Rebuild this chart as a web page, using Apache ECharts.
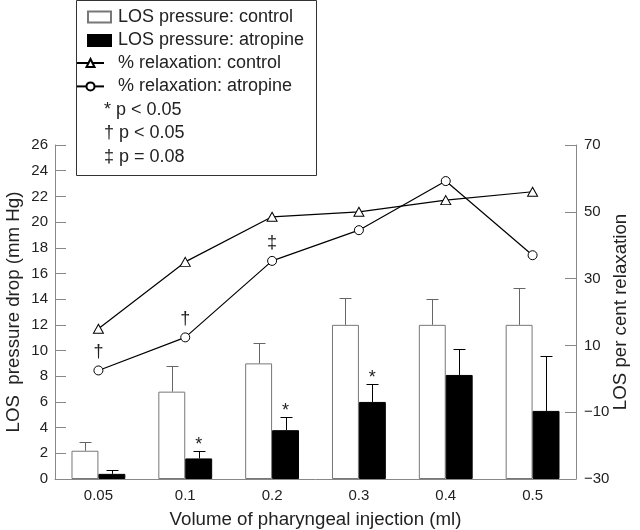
<!DOCTYPE html>
<html><head><meta charset="utf-8">
<script src="https://cdn.jsdelivr.net/npm/echarts@6/dist/echarts.min.js"></script>
<style>html,body{margin:0;padding:0;background:#fff}#c{width:640px;height:530px}</style>
</head><body><div id="c"></div>
<script>
const categories = ['0.05', '0.1', '0.2', '0.3', '0.4', '0.5'];
const pressureControl = [2.2, 6.8, 9.0, 12.0, 12.0, 12.0];
const pressureControlSD = [0.7, 2.0, 1.6, 2.1, 2.0, 2.9];
const pressureAtropine = [0.4, 1.6, 3.8, 6.0, 8.1, 5.3];
const pressureAtropineSD = [0.3, 0.6, 1.0, 1.4, 2.0, 4.3];
const relaxControl = [15, 35, 48.5, 50, 53.5, 56];
const relaxAtropine = [2.5, 12.4, 35.3, 44.5, 59.2, 37];
const sigPressure = ['', '*', '*', '*', '', ''];
const sigRelax = ['\u2020', '\u2020', '\u2021', '', '', ''];
const notes = ['* p < 0.05', '\u2020 p < 0.05', '\u2021 p = 0.08'];
const seriesNames = ['LOS pressure: control', 'LOS pressure: atropine', '% relaxation: control', '% relaxation: atropine'];

const FONT = "'Liberation Sans', Arial, sans-serif";
const TXT = '#222';
const AX = '#888';
const GAP = 0.38;

function errRender(side, color) {
  return function (params, api) {
    const i = api.value(0), v = api.value(1), sd = api.value(2);
    const base = api.coord([i, v]);
    const top = api.coord([i, v + sd]);
    const band = api.size([1, 0])[0];
    const bw = band * (1 - GAP) / 2;
    const x = Math.round(base[0] + side * bw / 2) + 0.5;
    const yt = Math.round(top[1]) + 0.5;
    return { type: 'group', children: [
      { type: 'line', shape: { x1: x, y1: base[1], x2: x, y2: yt }, style: { stroke: color, lineWidth: 1 } },
      { type: 'line', shape: { x1: x - 6, y1: yt, x2: x + 6, y2: yt }, style: { stroke: color, lineWidth: 1 } }
    ]};
  };
}

const chart = echarts.init(document.getElementById('c'), null, { renderer: 'canvas' });
chart.setOption({
  animation: false,
  textStyle: { fontFamily: FONT, color: TXT },
  grid: { left: 55, right: 64, top: 145, bottom: 51, containLabel: false, outerBoundsMode: 'none' },
  legend: [
    { data: seriesNames.slice(0, 2).map(n => ({ name: n, icon: 'rect' })), orient: 'vertical', left: 87, top: 7, padding: 0,
      itemWidth: 23, itemHeight: 11, itemGap: 3.4, selectedMode: false,
      textStyle: { fontSize: 18, lineHeight: 20, color: TXT, padding: [0, 0, 0, 2] } },
    { data: seriesNames.slice(2, 4), orient: 'vertical', left: 76, top: 53, padding: 0,
      itemWidth: 27, itemHeight: 10, itemGap: 3.4, selectedMode: false,
      textStyle: { fontSize: 18, lineHeight: 20, color: TXT, padding: [0, 0, 0, 9] } }
  ],
  graphic: [
    { type: 'rect', shape: { x: 76.5, y: 0.5, width: 240, height: 175 }, style: { fill: 'transparent', stroke: '#333', lineWidth: 1 }, z: 0 },
  ].concat(notes.map((t, k) => ({
    type: 'text', x: 104, y: 110 + k * 23.5,
    style: { text: t, font: '18px ' + FONT, fill: TXT, textVerticalAlign: 'middle' }
  }))),
  xAxis: {
    type: 'category', data: categories,
    axisLine: { lineStyle: { color: AX, width: 1 } },
    axisTick: { show: false },
    axisLabel: { fontSize: 15, color: TXT, margin: 9 },
    name: 'Volume of pharyngeal injection (ml)', nameLocation: 'middle', nameGap: 31, nameMoveOverlap: false,
    nameTextStyle: { fontSize: 18.7, color: TXT }
  },
  yAxis: [
    { type: 'value', min: 0, max: 26, interval: 2, position: 'left',
      axisLine: { show: true, lineStyle: { color: AX } },
      axisTick: { show: true, inside: true, length: 11, lineStyle: { color: AX } },
      splitLine: { show: false },
      axisLabel: { fontSize: 15, color: TXT, margin: 7 },
      name: 'LOS  pressure drop (mm Hg)', nameLocation: 'middle', nameRotate: 90, nameGap: 32, nameMoveOverlap: false,
      nameTextStyle: { fontSize: 18.7, color: TXT } },
    { type: 'value', min: -30, max: 70, interval: 20, position: 'right',
      axisLine: { show: true, lineStyle: { color: AX } },
      axisTick: { show: true, inside: true, length: 11, lineStyle: { color: AX } },
      splitLine: { show: false },
      axisLabel: { fontSize: 15, color: TXT, margin: 8, formatter: v => String(v).replace('-', '\u2212') },
      name: 'LOS per cent relaxation', nameLocation: 'middle', nameRotate: 90, nameGap: 35, nameMoveOverlap: false,
      nameTextStyle: { fontSize: 18.7, color: TXT } }
  ],
  series: [
    { name: seriesNames[0], type: 'bar', data: pressureControl, barGap: '0%', barCategoryGap: (GAP * 100) + '%',
      itemStyle: { color: '#fff', borderColor: '#777', borderWidth: 1 } },
    { name: seriesNames[1], type: 'bar', data: pressureAtropine,
      itemStyle: { color: '#000', borderColor: '#000', borderWidth: 1 } },
    { name: seriesNames[2], type: 'line', yAxisIndex: 1, data: relaxControl,
      symbol: 'triangle', symbolSize: [10, 9],
      lineStyle: { color: '#000', width: 1.2 },
      itemStyle: { color: '#fff', borderColor: '#000', borderWidth: 1 }, z: 5 },
    { name: seriesNames[3], type: 'line', yAxisIndex: 1, data: relaxAtropine,
      symbol: 'circle', symbolSize: 9,
      lineStyle: { color: '#000', width: 1.2 },
      itemStyle: { color: '#fff', borderColor: '#000', borderWidth: 1 }, z: 5 },
    { type: 'custom', name: 'errControl', renderItem: errRender(-1, '#666'),
      data: pressureControl.map((v, i) => [i, v, pressureControlSD[i]]), z: 3 },
    { type: 'custom', name: 'errAtropine', renderItem: errRender(1, '#000'),
      data: pressureAtropine.map((v, i) => [i, v, pressureAtropineSD[i]]), z: 3 },
    { type: 'custom', name: 'sigP',
      renderItem: function (params, api) {
        const i = api.value(0);
        const t = sigPressure[params.dataIndex];
        if (!t) return null;
        const p = api.coord([i, api.value(1)]);
        const bw = api.size([1, 0])[0] * (1 - GAP) / 2;
        return { type: 'text', x: p[0] + bw / 2, y: p[1] - 6,
          style: { text: t, font: '18px ' + FONT, fill: TXT, textAlign: 'center', textVerticalAlign: 'middle' } };
      },
      data: pressureAtropine.map((v, i) => [i, v + pressureAtropineSD[i]]), z: 6 },
    { type: 'custom', name: 'sigR', yAxisIndex: 1,
      renderItem: function (params, api) {
        const t = sigRelax[params.dataIndex];
        if (!t) return null;
        const p = api.coord([api.value(0), api.value(1)]);
        return { type: 'text', x: p[0], y: p[1] - 18,
          style: { text: t, font: '18px ' + FONT, fill: TXT, textAlign: 'center', textVerticalAlign: 'middle' } };
      },
      data: relaxAtropine.map((v, i) => [i, v]), z: 6 }
  ]
});
</script>
</body></html>
